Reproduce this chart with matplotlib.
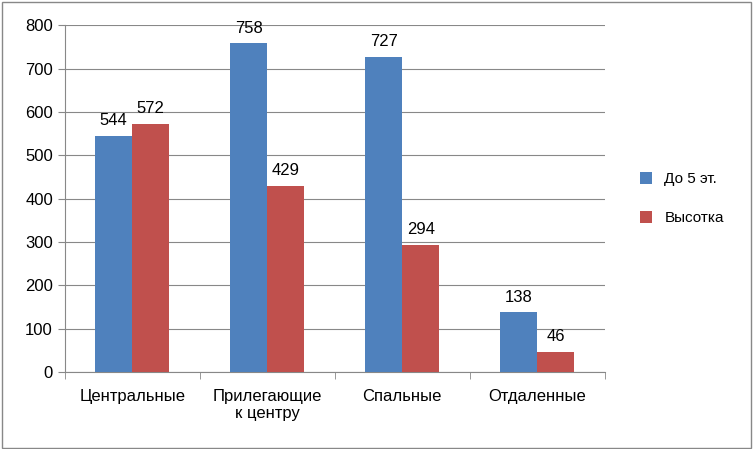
import matplotlib
matplotlib.use('Agg')
import matplotlib.pyplot as plt
import numpy as np

categories = ['Центральные', 'Прилегающие\nк центру', 'Спальные', 'Отдаленные']
low_rise = [544, 758, 727, 138]
high_rise = [572, 429, 294, 46]
series_names = ['До 5 эт.', 'Высотка']

plt.rcParams['font.family'] = ['Liberation Sans', 'DejaVu Sans']

fig = plt.figure(figsize=(7.53, 4.49), dpi=100)
fig.patches.append(plt.Rectangle((0.002, 0.003), 0.995, 0.993, transform=fig.transFigure,
                                 fill=False, edgecolor='#888888', linewidth=1))
ax = fig.add_axes([0.086, 0.171, 0.717, 0.773])

x = np.arange(len(categories))
w = 0.275
b1 = ax.bar(x - w / 2, low_rise, w, color='#4F81BD', label=series_names[0], zorder=3)
b2 = ax.bar(x + w / 2, high_rise, w, color='#C0504D', label=series_names[1], zorder=3)
for bars in (b1, b2):
    for r in bars:
        ax.text(r.get_x() + r.get_width() / 2, r.get_height() + 18, f'{int(r.get_height())}',
                ha='center', va='bottom', fontsize=12)

ax.set_xlim(-0.5, 3.5)
ax.set_ylim(0, 800)
ax.set_yticks(range(0, 801, 100))
ax.yaxis.grid(True, color='#888888', linewidth=0.8, zorder=0)
ax.set_xticks(x)
ax.set_xticklabels(categories, fontsize=12)
ax.set_xticks(np.arange(-0.5, 4, 1), minor=True)
ax.tick_params(axis='x', which='major', length=0, pad=12)
ax.tick_params(axis='x', which='minor', length=5, color='#888888')
ax.tick_params(axis='y', labelsize=12, length=5, color='#888888')
for s in ('top', 'right'):
    ax.spines[s].set_visible(False)
for s in ('left', 'bottom'):
    ax.spines[s].set_color('#888888')

ax.legend(loc='center left', bbox_to_anchor=(1.04, 0.5), frameon=False, fontsize=11,
          handlelength=0.8, handleheight=0.8, labelspacing=1.6)

fig.savefig('out.png', dpi=100)
